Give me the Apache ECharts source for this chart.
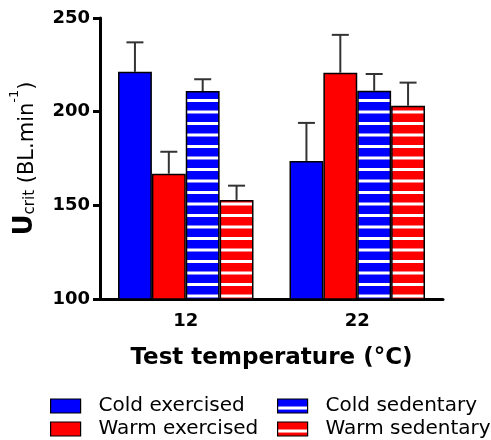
<!DOCTYPE html>
<html><head><meta charset="utf-8">
<script src="https://cdn.jsdelivr.net/npm/echarts@6/dist/echarts.min.js"></script>
<style>html,body{margin:0;padding:0;background:#fff}#c{width:491px;height:440px}</style>
</head><body><div id="c"></div>
<script>
const categories = ['12', '22'];
const seriesNames = ['Cold exercised', 'Warm exercised', 'Cold sedentary', 'Warm sedentary'];
const coldExercised = [221.3, 173.7];
const warmExercised = [166.9, 220.8];
const coldSedentary = [211.0, 211.2];
const warmSedentary = [152.9, 203.2];
const coldExercisedUpper = [237.0, 194.0];
const warmExercisedUpper = [178.6, 241.0];
const coldSedentaryUpper = [217.3, 220.1];
const warmSedentaryUpper = [160.5, 215.5];
const yTicks = [100, 150, 200, 250];

const BLUE = '#0000ff', RED = '#ff0000';
const GAP = 0.21;

function stripes(color, offY) {
  const cv = document.createElement('canvas');
  cv.width = 4; cv.height = 23;
  const ctx = cv.getContext('2d');
  ctx.fillStyle = color; ctx.fillRect(0, 0, 4, 23);
  ctx.fillStyle = '#ffffff';
  ctx.fillRect(0, 4, 4, 3);
  ctx.fillStyle = 'rgba(255,255,255,0.5)';
  ctx.fillRect(0, 15, 4, 1); ctx.fillRect(0, 18, 4, 1);
  ctx.fillStyle = '#ffffff';
  ctx.fillRect(0, 16, 4, 2);
  return { image: cv, repeat: 'repeat', x: 0, y: offY };
}

const values = [coldExercised, warmExercised, coldSedentary, warmSedentary];
const uppers = [coldExercisedUpper, warmExercisedUpper, coldSedentaryUpper, warmSedentaryUpper];
const fills = [BLUE, RED, stripes(BLUE, 3), stripes(RED, 3)];
const legendFills = [BLUE, RED, stripes(BLUE, 3.5), stripes(RED, 3.5)];

const series = [];
values.forEach((v, i) => {
  series.push({
    name: seriesNames[i], type: 'bar', data: v,
    barGap: '0%', barCategoryGap: (GAP * 100) + '%',
    itemStyle: { color: fills[i], borderColor: '#000', borderWidth: 1.5 },
    z: 2
  });
});
values.forEach((v, i) => {
  series.push({
    type: 'custom', z: 1,
    encode: { x: 0, y: 2 },
    data: v.map((m, k) => [k, m, uppers[i][k]]),
    renderItem: (params, api) => {
      const x = api.value(0);
      const base = api.coord([x, api.value(1)]);
      const top = api.coord([x, api.value(2)]);
      const band = api.size([1, 0])[0];
      const total = band * (1 - GAP);
      const bw = total / 4;
      const cx = base[0] - total / 2 + bw * (i + 0.5);
      const half = 8.5;
      const st = { stroke: '#333', lineWidth: 2 };
      return { type: 'group', children: [
        { type: 'line', shape: { x1: cx, y1: base[1], x2: cx, y2: top[1] }, style: st },
        { type: 'line', shape: { x1: cx - half, y1: top[1], x2: cx + half, y2: top[1] }, style: st }
      ]};
    }
  });
});

function legendFor(idx, left, top) {
  return {
    data: [{ name: seriesNames[idx], itemStyle: { color: legendFills[idx], borderColor: '#000', borderWidth: 1.2 } }],
    left: left, top: top, padding: 0,
    orient: 'horizontal', itemWidth: 30, itemHeight: 14, icon: 'rect',
    textStyle: { fontFamily: 'DejaVu Sans', fontSize: 20, color: '#000', padding: [0, 0, 0, 13] },
    itemStyle: { borderColor: '#000', borderWidth: 1.2 }
  };
}

const chart = echarts.init(document.getElementById('c'), null, { renderer: 'canvas' });
chart.setOption({
  animation: false,
  backgroundColor: '#fff',
  grid: { left: 100, right: 48, top: 18, bottom: 141, containLabel: false },
  legend: [
    legendFor(0, 50, 396),
    legendFor(1, 50, 419),
    legendFor(2, 277, 396),
    legendFor(3, 277, 419)
  ],
  xAxis: {
    type: 'category', data: categories,
    axisLine: { lineStyle: { color: '#000', width: 3 } },
    axisTick: { alignWithLabel: true, length: 7, lineStyle: { color: '#000', width: 3 } },
    axisLabel: { fontFamily: 'DejaVu Sans', fontWeight: 'bold', fontSize: 18, color: '#000', margin: 13 },
    name: 'Test temperature (°C)', nameLocation: 'middle', nameGap: 48,
    nameTextStyle: { fontFamily: 'DejaVu Sans', fontWeight: 'bold', fontSize: 23, color: '#000' }
  },
  yAxis: {
    type: 'value', min: 100, max: 250, interval: 50,
    splitLine: { show: false },
    axisLine: { show: true, lineStyle: { color: '#000', width: 3 } },
    axisTick: { show: true, length: 7, lineStyle: { color: '#000', width: 3 } },
    axisLabel: { fontFamily: 'DejaVu Sans', fontWeight: 'bold', fontSize: 18, color: '#000', margin: 10 },
    name: '{u|U}{sub|crit}{n| (BL.min}{sup|-1}{n|)}', nameLocation: 'middle', nameRotate: 90, nameGap: 62,
    nameTextStyle: {
      fontFamily: 'DejaVu Sans', color: '#000',
      rich: {
        u: { fontFamily: 'DejaVu Sans', fontWeight: 'bold', fontSize: 26, color: '#000', lineHeight: 30, verticalAlign: 'bottom' },
        sub: { fontFamily: 'DejaVu Sans', fontSize: 15, color: '#000', lineHeight: 30, verticalAlign: 'bottom' },
        n: { fontFamily: 'DejaVu Sans', fontSize: 21, color: '#000', lineHeight: 30, verticalAlign: 'bottom' },
        sup: { fontFamily: 'DejaVu Sans', fontSize: 13, color: '#000', lineHeight: 30, verticalAlign: 'top' }
      }
    }
  },
  series: series
});
</script></body></html>
